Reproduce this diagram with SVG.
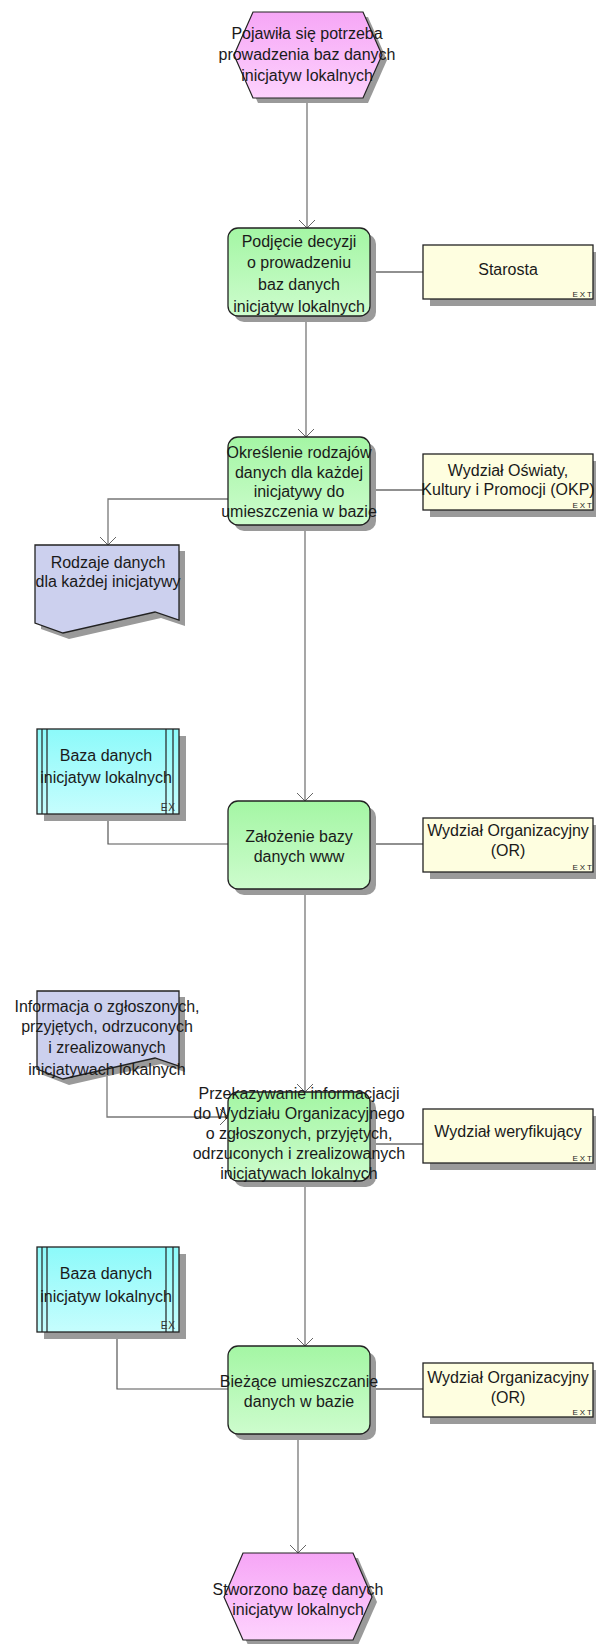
<svg xmlns="http://www.w3.org/2000/svg" width="596" height="1644" viewBox="0 0 596 1644">
  <defs>
    <linearGradient id="gEvent" x1="0" y1="0" x2="0" y2="1">
      <stop offset="0" stop-color="#f6a6f6"/>
      <stop offset="1" stop-color="#fdd2fd"/>
    </linearGradient>
    <linearGradient id="gFunc" x1="0" y1="0" x2="0" y2="1">
      <stop offset="0" stop-color="#a4f6a4"/>
      <stop offset="1" stop-color="#cdfccd"/>
    </linearGradient>
    <linearGradient id="gDb" x1="0" y1="0" x2="0" y2="1">
      <stop offset="0" stop-color="#8cfafa"/>
      <stop offset="1" stop-color="#c6fdfd"/>
    </linearGradient>
    <marker id="arrow" viewBox="0 0 20 20" refX="10" refY="10" markerWidth="20" markerHeight="20" markerUnits="userSpaceOnUse" orient="auto">
      <path d="M2,2 L10,10 L2,18" fill="none" stroke="#666" stroke-width="1"/>
    </marker>
  </defs>
  <style>
    .shadow { fill: #9a9a9a; }
    .event { fill: url(#gEvent); stroke: #222; stroke-width: 1.2; }
    .func { fill: url(#gFunc); stroke: #222; stroke-width: 1.3; }
    .ext { fill: #fefee0; stroke: #222; stroke-width: 1.3; }
    .doc { fill: #ccd0ee; stroke: #222; stroke-width: 1.3; }
    .db { fill: url(#gDb); stroke: #222; stroke-width: 1.3; }
    .band { stroke: #222; stroke-width: 1.2; fill: none; }
    .t { font-family: "Liberation Sans", Arial, sans-serif; font-size: 16px; fill: #1a1a1a; text-anchor: middle; }
    .tag { font-family: "Liberation Sans", Arial, sans-serif; font-size: 8px; fill: #222; text-anchor: end; letter-spacing: 2px; }
    .tagdb { font-family: "Liberation Sans", Arial, sans-serif; font-size: 10px; fill: #333; text-anchor: end; letter-spacing: 1px; }
    .flow { fill: none; stroke: #777; stroke-width: 1.3; }
    .assign { fill: none; stroke: #222; stroke-width: 1.2; }
    .data { fill: none; stroke: #555; stroke-width: 1.2; }
  </style>

  <!-- connectors -->
  <g id="connectors">
    <path class="flow" d="M307,98 V228" marker-end="url(#arrow)"/>
    <path class="flow" d="M306,316 V437" marker-end="url(#arrow)"/>
    <path class="assign" d="M370,272 H423"/>
    <path class="assign" d="M370,490 H423"/>
    <path class="flow" d="M228,499 H108 V545" marker-end="url(#arrow)"/>
    <path class="flow" d="M305,525 V801" marker-end="url(#arrow)"/>
    <path class="data" d="M108,814 V844 H228"/>
    <path class="assign" d="M370,844 H423"/>
    <path class="flow" d="M305,889 V1092" marker-end="url(#arrow)"/>
    <path class="flow" d="M107,1072 V1117 H228" marker-end="url(#arrow)"/>
    <path class="assign" d="M370,1144 H423"/>
    <path class="flow" d="M305,1181 V1346" marker-end="url(#arrow)"/>
    <path class="data" d="M117,1332 V1389 H228"/>
    <path class="assign" d="M370,1389 H423"/>
    <path class="flow" d="M298,1434 V1553" marker-end="url(#arrow)"/>
  </g>

  <!-- start event -->
  <g id="ev-start">
    <polygon class="shadow" points="258,17 368,17 387,60 368,103 258,103 239,60"/>
    <polygon class="event" points="253,12 363,12 382,55 363,98 253,98 234,55"/>
    <text class="t" x="307" y="39">Pojawiła się potrzeba</text>
    <text class="t" x="307" y="60">prowadzenia baz danych</text>
    <text class="t" x="307" y="81">inicjatyw lokalnych</text>
  </g>

  <!-- function: decision -->
  <g id="fn-decyzja">
    <rect class="shadow" x="234" y="234" width="142" height="88" rx="10"/>
    <rect class="func" x="228" y="228" width="142" height="88" rx="10"/>
    <text class="t" x="299" y="247">Podjęcie decyzji</text>
    <text class="t" x="299" y="268">o prowadzeniu</text>
    <text class="t" x="299" y="290">baz danych</text>
    <text class="t" x="299" y="312">inicjatyw lokalnych</text>
  </g>

  <g id="org-starosta">
    <rect class="shadow" x="430" y="252" width="170" height="54"/>
    <rect class="ext" x="423" y="245" width="170" height="54"/>
    <text class="t" x="508" y="275">Starosta</text>
    <text class="tag" x="594" y="297">EXT</text>
  </g>

  <!-- function: data kinds -->
  <g id="fn-okreslenie">
    <rect class="shadow" x="234" y="443" width="142" height="88" rx="10"/>
    <rect class="func" x="228" y="437" width="142" height="88" rx="10"/>
    <text class="t" x="299" y="458">Określenie rodzajów</text>
    <text class="t" x="299" y="478">danych dla każdej</text>
    <text class="t" x="299" y="497">inicjatywy do</text>
    <text class="t" x="299" y="517">umieszczenia w bazie</text>
  </g>

  <g id="org-okp">
    <rect class="shadow" x="430" y="461" width="170" height="56"/>
    <rect class="ext" x="423" y="454" width="170" height="56"/>
    <text class="t" x="508" y="476">Wydział Oświaty,</text>
    <text class="t" x="508" y="495">Kultury i Promocji (OKP)</text>
    <text class="tag" x="594" y="508">EXT</text>
  </g>

  <g id="doc-rodzaje">
    <path class="shadow" d="M41,551 H185 V626 L161,618 L69,639 L41,629 Z"/>
    <path class="doc" d="M35,545 H179 V620 L155,612 L63,633 L35,623 Z"/>
    <text class="t" x="108" y="568">Rodzaje danych</text>
    <text class="t" x="108" y="587">dla każdej inicjatywy</text>
  </g>

  <!-- database 1 -->
  <g id="db-baza-1">
    <rect class="shadow" x="44" y="736" width="142" height="85"/>
    <rect class="db" x="37" y="729" width="142" height="85"/>
    <path class="band" d="M42,729 V814 M47,729 V814 M166,729 V814 M173,729 V814"/>
    <text class="t" x="106" y="761">Baza danych</text>
    <text class="t" x="106" y="783">inicjatyw lokalnych</text>
    <text class="tagdb" x="176" y="811">EX</text>
  </g>

  <g id="fn-zalozenie">
    <rect class="shadow" x="234" y="807" width="142" height="88" rx="10"/>
    <rect class="func" x="228" y="801" width="142" height="88" rx="10"/>
    <text class="t" x="299" y="842">Założenie bazy</text>
    <text class="t" x="299" y="862">danych www</text>
  </g>

  <g id="org-or-1">
    <rect class="shadow" x="430" y="825" width="170" height="54"/>
    <rect class="ext" x="423" y="818" width="170" height="54"/>
    <text class="t" x="508" y="836">Wydział Organizacyjny</text>
    <text class="t" x="508" y="856">(OR)</text>
    <text class="tag" x="594" y="870">EXT</text>
  </g>

  <g id="doc-informacja">
    <path class="shadow" d="M43,997 H185 V1072 L161,1064 L69,1085 L43,1075 Z"/>
    <path class="doc" d="M37,991 H179 V1066 L155,1058 L63,1079 L37,1069 Z"/>
    <text class="t" x="107" y="1012">Informacja o zgłoszonych,</text>
    <text class="t" x="107" y="1032">przyjętych, odrzuconych</text>
    <text class="t" x="107" y="1053">i zrealizowanych</text>
    <text class="t" x="107" y="1075">inicjatywach lokalnych</text>
  </g>

  <g id="fn-przekazywanie">
    <rect class="shadow" x="234" y="1098" width="142" height="89" rx="10"/>
    <rect class="func" x="228" y="1092" width="142" height="89" rx="10"/>
    <text class="t" x="299" y="1099">Przekazywanie informacjacji</text>
    <text class="t" x="299" y="1119">do Wydziału Organizacyjnego</text>
    <text class="t" x="299" y="1139">o zgłoszonych, przyjętych,</text>
    <text class="t" x="299" y="1159">odrzuconych i zrealizowanych</text>
    <text class="t" x="299" y="1179">inicjatywach lokalnych</text>
  </g>

  <g id="org-weryfikujacy">
    <rect class="shadow" x="430" y="1116" width="170" height="54"/>
    <rect class="ext" x="423" y="1109" width="170" height="54"/>
    <text class="t" x="508" y="1137">Wydział weryfikujący</text>
    <text class="tag" x="594" y="1161">EXT</text>
  </g>

  <!-- database 2 -->
  <g id="db-baza-2">
    <rect class="shadow" x="44" y="1254" width="142" height="85"/>
    <rect class="db" x="37" y="1247" width="142" height="85"/>
    <path class="band" d="M42,1247 V1332 M47,1247 V1332 M166,1247 V1332 M173,1247 V1332"/>
    <text class="t" x="106" y="1279">Baza danych</text>
    <text class="t" x="106" y="1302">inicjatyw lokalnych</text>
    <text class="tagdb" x="176" y="1329">EX</text>
  </g>

  <g id="fn-biezace">
    <rect class="shadow" x="234" y="1352" width="142" height="88" rx="10"/>
    <rect class="func" x="228" y="1346" width="142" height="88" rx="10"/>
    <text class="t" x="299" y="1387">Bieżące umieszczanie</text>
    <text class="t" x="299" y="1407">danych w bazie</text>
  </g>

  <g id="org-or-2">
    <rect class="shadow" x="430" y="1370" width="170" height="54"/>
    <rect class="ext" x="423" y="1363" width="170" height="54"/>
    <text class="t" x="508" y="1383">Wydział Organizacyjny</text>
    <text class="t" x="508" y="1403">(OR)</text>
    <text class="tag" x="594" y="1415">EXT</text>
  </g>

  <!-- end event -->
  <g id="ev-end">
    <polygon class="shadow" points="248,1558 358,1558 377,1602 358,1645 248,1645 229,1602"/>
    <polygon class="event" points="243,1553 353,1553 372,1597 353,1640 243,1640 224,1597"/>
    <text class="t" x="298" y="1595">Stworzono bazę danych</text>
    <text class="t" x="298" y="1615">inicjatyw lokalnych</text>
  </g>
</svg>
